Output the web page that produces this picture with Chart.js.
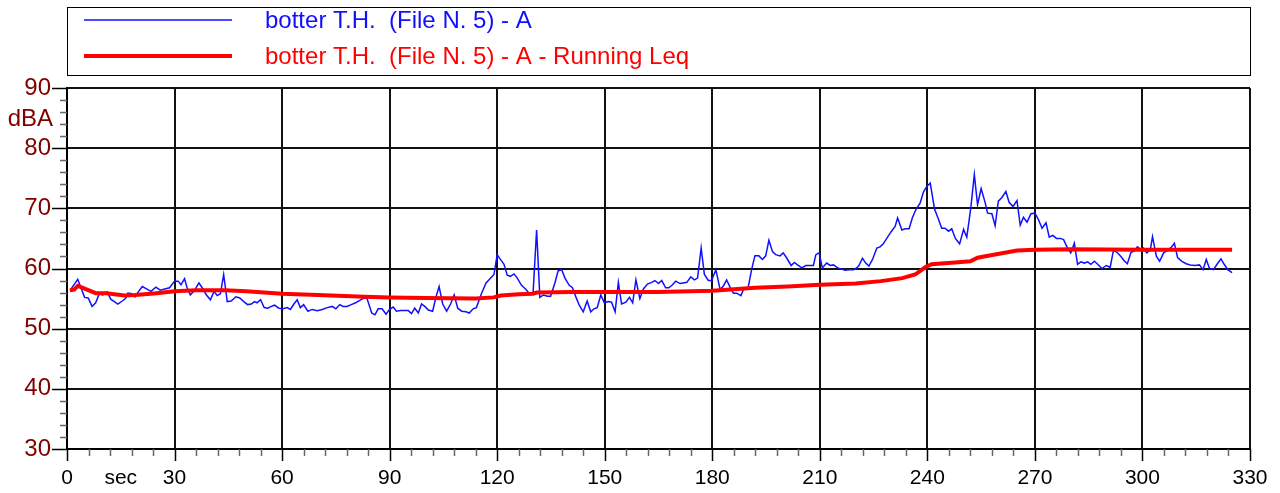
<!DOCTYPE html>
<html>
<head>
<meta charset="utf-8">
<script src="https://cdn.jsdelivr.net/npm/chart.js@4.4.1/dist/chart.umd.min.js"></script>
<style>
  html, body { margin: 0; padding: 0; background: #fff; }
  #wrap { width: 1280px; height: 493px; position: relative; }
</style>
</head>
<body>
<div id="wrap"><canvas id="c" width="1280" height="493"></canvas></div>
<script>
const seriesLabels = ['botter T.H.  (File N. 5) - A', 'botter T.H.  (File N. 5) - A - Running Leq'];
const xTickValues = [0, 15, 30, 60, 90, 120, 150, 180, 210, 240, 270, 300, 330];
const yTickValues = [30, 40, 50, 60, 70, 80, 90];
const xUnitLabel = 'sec';
const yUnitLabel = 'dBA';

const levelTimes = [1,3,3.9,4.9,5.9,7,8,9,10,11.2,12.2,13.2,14.2,15.4,16.3,17,18.1,19,20,21,22.2,23.4,24.8,26,27.3,28.6,30,31,31.8,32.8,33.5,34.4,35.5,36.8,37.7,38.9,40,41,41.9,42.8,43.7,44.7,45.8,47.1,48.2,49.3,50.4,51.4,52.3,53,54,55,56,57,57.9,59.1,60.3,61.4,62.3,63.3,64.2,65.1,66,67.2,68.4,69.8,71.2,72.6,74,75,76.1,77,78.1,79.3,80.5,81.9,82.8,83.7,85,85.9,86.8,87.9,89,90,91,91.9,93,94.2,95.2,96.1,97,98,98.9,99.8,100.8,102,102.9,103.8,104.8,105.9,107,108,109,110.1,111.3,112.2,113.3,114.2,115.6,116.9,118,119.1,120,120.8,121.9,122.8,123.7,124.7,125.6,126.8,127.9,128.9,130,131,131.9,132.9,134,134.9,136.1,137,138,138.9,140.1,141,142,142.9,144,145.1,146.1,147,147.9,148.9,149.9,151,151.9,152.9,153.8,154.7,155.9,156.9,157.8,158.7,159.8,160.8,161.9,163.1,164,165,165.9,167,167.9,168.9,169.8,171,171.9,172.9,174,175,175.9,176.9,177.8,178.9,179.8,181,182.2,183.1,184,184.9,185.9,186.8,188,188.9,190,191,191.9,193,194,194.9,195.8,196.8,197.7,198.9,199.8,200.8,202,202.9,203.8,205,206.1,207.3,208.2,208.9,209.8,210.7,211.9,212.9,213.8,215,216.1,217,218.2,219.4,220.3,220.9,221.9,222.8,223.7,224.7,225.9,226.8,227.7,228.9,230,231,231.7,232.9,233.8,234.9,235.8,236.8,238,238.9,239.8,240.8,242,243.1,244,244.9,245.9,246.8,247.8,249,250.1,251,252.1,253.1,254,255,256.1,256.8,258,258.9,259.8,260.8,261.9,262.8,263.9,265,265.9,266.8,267.8,268.9,270,271,272,273.1,274,275,276,277.1,278,279.1,280,281,281.9,282.8,283.8,284.7,285.6,286.6,287.5,288.7,289.9,291,291.9,292.9,294,294.9,295.8,296.8,297.7,298.6,299.6,300.3,301.2,302.2,302.8,303.9,304.8,305.9,307,308,308.9,309.8,311,312.2,313.3,314.7,315.9,316.9,317.8,318.7,319.8,320.8,321.9,322.8,323.8,325];
const levelValues = [56.5,58.2,56.8,55.2,55.1,53.7,54.3,55.8,55.6,56.1,54.9,54.5,54.1,54.6,55.0,55.9,55.8,55.3,56.2,57.0,56.6,56.2,56.9,56.4,56.6,56.8,57.9,57.9,57.3,58.3,56.8,55.6,56.3,57.6,56.8,55.6,54.8,56.2,55.5,55.8,59.0,54.5,54.6,55.3,55.1,54.5,54.0,54.1,54.5,54.3,54.8,53.5,53.4,53.7,53.9,53.4,53.3,53.5,53.2,54.1,54.8,53.5,54.0,52.9,53.2,53.0,53.2,53.5,53.7,53.3,54.0,53.7,53.7,54.0,54.3,54.8,55.1,55.0,52.6,52.3,53.3,53.3,52.4,53.2,53.6,52.9,53.0,53.0,53.0,52.5,53.4,52.6,54.1,53.7,53.1,52.9,55.2,57.0,54.1,52.9,54.1,55.6,53.4,52.9,52.8,52.6,53.3,53.5,55.8,57.6,58.3,59.0,62.3,61.6,60.7,58.9,58.7,59.1,58.4,57.2,56.6,55.9,55.8,66.4,55.2,55.6,55.4,55.4,57.6,59.6,59.8,58.4,57.2,56.8,55.2,53.9,52.8,54.6,52.8,53.3,53.5,55.6,54.3,54.5,54.4,52.8,57.7,54.1,54.4,55.2,54.3,58.1,55.0,56.6,57.4,57.7,58.0,57.5,58.0,56.8,56.8,57.3,57.9,57.5,57.6,57.7,58.6,58.1,58.4,63.4,59.0,58.0,58.0,59.8,56.5,57.1,58.1,57.0,55.9,55.9,55.5,56.8,56.8,59.9,62.1,62.1,61.5,62.1,64.7,62.8,62.3,62.1,62.6,61.7,60.5,61.0,60.6,60.1,60.5,60.5,60.5,62.3,62.6,60.1,60.9,60.5,60.6,60.1,59.9,59.7,59.8,59.8,60.1,60.5,61.7,60.9,60.4,61.5,63.4,63.6,64.1,65.2,66.2,67.0,68.4,66.4,66.6,66.6,68.4,69.8,70.9,72.7,73.6,74.2,69.9,68.2,66.7,66.7,66.2,66.6,65.0,64.1,66.5,65.2,70.0,75.6,70.6,73.3,71.0,69.2,69.1,67.1,71.2,71.8,72.8,71.0,70.3,71.3,67.2,68.5,67.7,69.1,69.2,68.1,66.7,67.6,65.2,65.5,65.0,65.0,64.8,63.4,62.6,64.2,60.7,61.1,60.9,61.1,60.7,61.2,60.7,60.0,60.5,60.2,63.0,62.7,62.0,61.3,60.8,62.7,62.9,63.6,63.1,63.4,62.6,63.1,65.3,62.0,61.2,62.6,63.0,63.5,64.2,61.8,61.2,60.8,60.6,60.5,60.6,59.8,61.5,60.0,59.8,60.7,61.6,60.7,59.8,59.3];

const leqTimes = [0.8,2,3,5.6,8,11,16,19,25,30,36,44,50,60,70,83,90,100,114,119,121,126,130,131,141,165,180,192,201,210,220,227,233,236.6,239.4,241.2,247.7,252,254,258.5,265,270,280,300,325];
const leqValues = [56.4,56.5,57.1,56.5,55.9,55.9,55.5,55.6,55.9,56.2,56.4,56.4,56.2,55.8,55.6,55.3,55.2,55.1,55.0,55.2,55.5,55.7,55.8,56.0,56.1,56.1,56.3,56.8,57.0,57.3,57.5,57.9,58.4,59.0,60.2,60.7,61.0,61.2,61.8,62.3,63.0,63.1,63.2,63.1,63.1];

const FONT = "'Liberation Sans', Arial, sans-serif";
const BLUE = '#1010ff';
const RED = '#ff0000';

const toPoints = (xs, ys) => xs.map((x, i) => ({ x: x, y: ys[i] }));

const decorPlugin = {
  id: 'decor',
  afterDraw(chart) {
    const ctx = chart.ctx;
    const xs = chart.scales.x, ys = chart.scales.y;
    const ca = chart.chartArea;
    ctx.save();
    for (let v = ys.min; v <= ys.max + 1e-6; v += 2) {
      const py = Math.round(ys.getPixelForValue(v)) + 0.5;
      const major = Math.abs(v % 10) < 1e-6;
      ctx.strokeStyle = major ? '#000' : '#666';
      ctx.lineWidth = 1.5;
      ctx.beginPath();
      ctx.moveTo(ca.left - (major ? 15 : 7), py);
      ctx.lineTo(ca.left, py);
      ctx.stroke();
    }
    for (let v = xs.min; v <= xs.max + 1e-6; v += 6) {
      const px = Math.round(xs.getPixelForValue(v)) + 0.5;
      const major = Math.abs(v % 30) < 1e-6;
      ctx.strokeStyle = major ? '#000' : '#666';
      ctx.lineWidth = 1.5;
      ctx.beginPath();
      ctx.moveTo(px, ca.bottom);
      ctx.lineTo(px, ca.bottom + (major ? 12 : 7));
      ctx.stroke();
    }
    ctx.fillStyle = '#800000';
    ctx.font = '24px ' + FONT;
    ctx.textAlign = 'right';
    ctx.textBaseline = 'middle';
    ctx.fillText(yUnitLabel, 53, ys.getPixelForValue(84.8));

    ctx.strokeStyle = '#000';
    ctx.lineWidth = 1;
    ctx.strokeRect(67.5, 7.5, 1183, 68);
    const rows = [20, 56];
    chart.data.datasets.forEach((ds, i) => {
      ctx.strokeStyle = ds.borderColor;
      ctx.lineWidth = ds.borderWidth;
      ctx.beginPath();
      ctx.moveTo(84, rows[i]);
      ctx.lineTo(232, rows[i]);
      ctx.stroke();
      ctx.fillStyle = ds.borderColor;
      ctx.font = '24px ' + FONT;
      ctx.textAlign = 'left';
      ctx.textBaseline = 'middle';
      ctx.fillText(ds.label, 265, rows[i] + 1);
    });
    ctx.restore();
  }
};

new Chart(document.getElementById('c'), {
  type: 'line',
  data: {
    datasets: [
      { label: seriesLabels[0], data: toPoints(levelTimes, levelValues), borderColor: BLUE, borderWidth: 1.5, pointRadius: 0, tension: 0, order: 2 },
      { label: seriesLabels[1], data: toPoints(leqTimes, leqValues), borderColor: RED, borderWidth: 4, pointRadius: 0, tension: 0, order: 1 }
    ]
  },
  options: {
    responsive: false,
    animation: false,
    events: [],
    layout: { padding: { top: 88, right: 30, left: 0, bottom: 0 } },
    plugins: { legend: { display: false }, tooltip: { enabled: false } },
    scales: {
      x: {
        type: 'linear', min: 0, max: 330,
        afterBuildTicks: s => { s.ticks = xTickValues.map(v => ({ value: v })); },
        afterFit: s => { s.height = 44; s.paddingLeft = 0; s.paddingRight = 0; },
        ticks: {
          autoSkip: false, maxRotation: 0, padding: 17,
          color: '#000', font: { family: FONT, size: 21 },
          callback: v => (v === 15 ? xUnitLabel : String(v))
        },
        grid: {
          drawTicks: false, lineWidth: 2,
          color: c => (c.tick && c.tick.value === 15 ? 'rgba(0,0,0,0)' : '#111')
        },
        border: { display: true, color: '#000', width: 2 }
      },
      y: {
        type: 'linear', min: 30, max: 90,
        afterBuildTicks: s => { s.ticks = yTickValues.map(v => ({ value: v })); },
        afterFit: s => { s.width = 67; s.paddingTop = 0; s.paddingBottom = 0; },
        ticks: {
          padding: 16, color: '#800000', font: { family: FONT, size: 24 },
          callback: v => String(v)
        },
        grid: { drawTicks: false, lineWidth: 2, color: '#111' },
        border: { display: true, color: '#000', width: 2 }
      }
    }
  },
  plugins: [decorPlugin]
});
</script>
</body>
</html>
